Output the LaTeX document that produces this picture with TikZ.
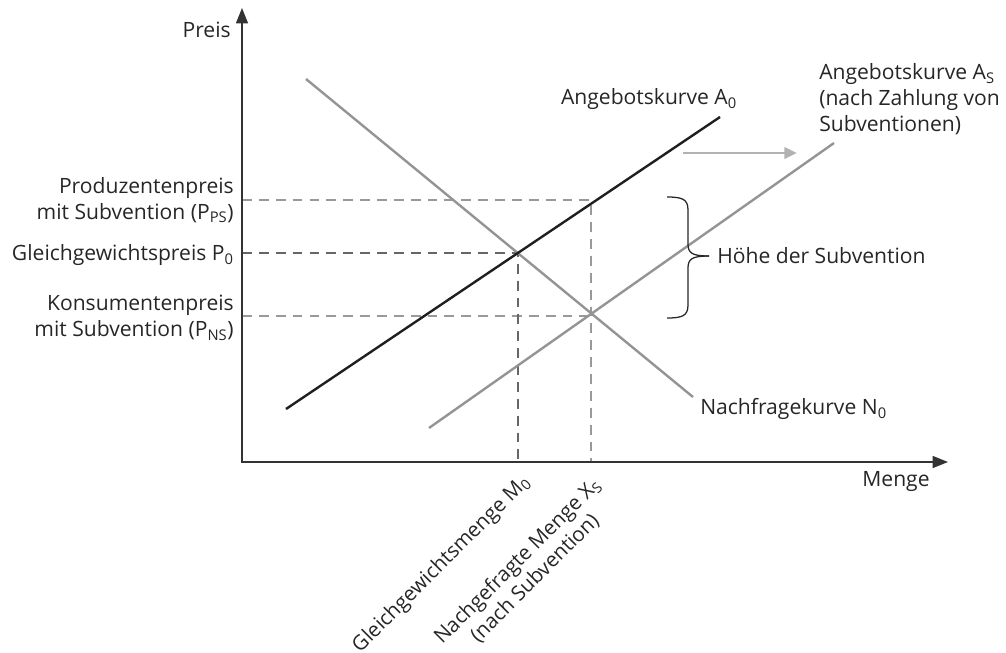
\documentclass[tikz,border=0pt]{standalone}
\usepackage{fontspec}
\setmainfont{Open Sans}
\usetikzlibrary{arrows.meta}

\begin{document}
\begin{tikzpicture}[x=0.025cm, y=-0.025cm, font=\fontsize{15}{18.5}\selectfont,
  axis/.style={draw=black!80, line width=1.3pt, -{Triangle[length=11pt, width=8.5pt]}},
  supplyold/.style={draw=black!88, line width=1.7pt},
  greycurve/.style={draw=black!42, line width=1.7pt},
  darkdash/.style={draw=black!60, line width=1.5pt, dash pattern=on 7pt off 5pt},
  lightdash/.style={draw=black!40, line width=1.5pt, dash pattern=on 7pt off 5pt},
  shiftarrow/.style={draw=black!30, line width=2pt, -{Triangle[length=9pt, width=8pt]}},
  bracel/.style={draw=black!85, line width=0.9pt},
  lbl/.style={text=black!85, inner sep=0pt},
  rotlbl/.style={lbl, rotate=45, font=\fontsize{14.6}{17.5}\selectfont}
]
  \useasboundingbox (0,0) rectangle (1006,652);
  % ===== points =====
  \coordinate (O)    at (242,462);
  \coordinate (ytop) at (242,8);
  \coordinate (xend) at (948,462);
  \coordinate (A0s)  at (286,409);
  \coordinate (A0e)  at (720,117);
  \coordinate (ASs)  at (429,428);
  \coordinate (ASe)  at (834,143);
  \coordinate (N0s)  at (306,79);
  \coordinate (N0e)  at (693,397);
  \coordinate (E0)   at (518,253);   % A0 x N0
  \coordinate (ES)   at (591,316);   % AS x N0
  \coordinate (EP)   at (591,200);   % A0 at X_S
  \coordinate (yP0)  at (242,253);
  \coordinate (yPS)  at (242,200);
  \coordinate (yNS)  at (242,316);
  \coordinate (xM0)  at (518,462);
  \coordinate (xXS)  at (591,462);
  \coordinate (shA)  at (683,153);
  \coordinate (shB)  at (797,153);
  % ===== helper lines =====
  \draw[lightdash] (yPS) -- (EP) -- (xXS);
  \draw[lightdash] (yNS) -- (ES);
  \draw[darkdash]  (yP0) -- (E0) -- (xM0);
  % ===== curves =====
  \draw[greycurve]  (N0s) -- (N0e);
  \draw[greycurve]  (ASs) -- (ASe);
  \draw[supplyold]  (A0s) -- (A0e);
  \draw[shiftarrow] (shA) -- (shB);
  % ===== axes =====
  \draw[axis] (O) -- (ytop);
  \draw[axis] ([xshift=-0.65pt]O) -- (xend);
  % ===== brace =====
  \coordinate (btip) at (709,256);
  \draw[bracel] (667,197) .. controls (682,197) and (688,199) .. (688,210)
    -- (688,244) .. controls (688,253) and (692,256) .. (btip);
  \draw[bracel] (667,318) .. controls (682,318) and (688,316) .. (688,305)
    -- (688,268) .. controls (688,259) and (692,256) .. (btip);
  % ===== labels =====
  \node[lbl, anchor=east] (preis) at (231,30) {Preis};
  \node[lbl] (menge) at (896,481) {Menge};
  \node[lbl, anchor=east, align=right] (pps) at (234,200)
    {Produzentenpreis\\mit Subvention (P\textsubscript{PS})};
  \node[lbl, anchor=east] (p0) at (234,255) {Gleichgewichtspreis P\textsubscript{0}};
  \node[lbl, anchor=east, align=right] (pns) at (234,318)
    {Konsumentenpreis\\mit Subvention (P\textsubscript{NS})};
  \node[rotlbl, anchor=east] (m0) at (527,479) {Gleichgewichtsmenge M\textsubscript{0}};
  \node[rotlbl, anchor=east, align=center] (xs) at (606,490)
    {Nachgefragte Menge X\textsubscript{S}\\(nach Subvention)};
  \node[lbl] (a0lbl) at (649,99) {Angebotskurve A\textsubscript{0}};
  \node[lbl, anchor=north west, align=left] (aslbl) at (819,63)
    {Angebotskurve A\textsubscript{S}\\(nach Zahlung von\\Subventionen)};
  \node[lbl, anchor=west] (n0lbl) at (700,409) {Nachfragekurve N\textsubscript{0}};
  \node[lbl, anchor=west] (hoehe) at (717,256) {Höhe der Subvention};
\end{tikzpicture}
\end{document}
